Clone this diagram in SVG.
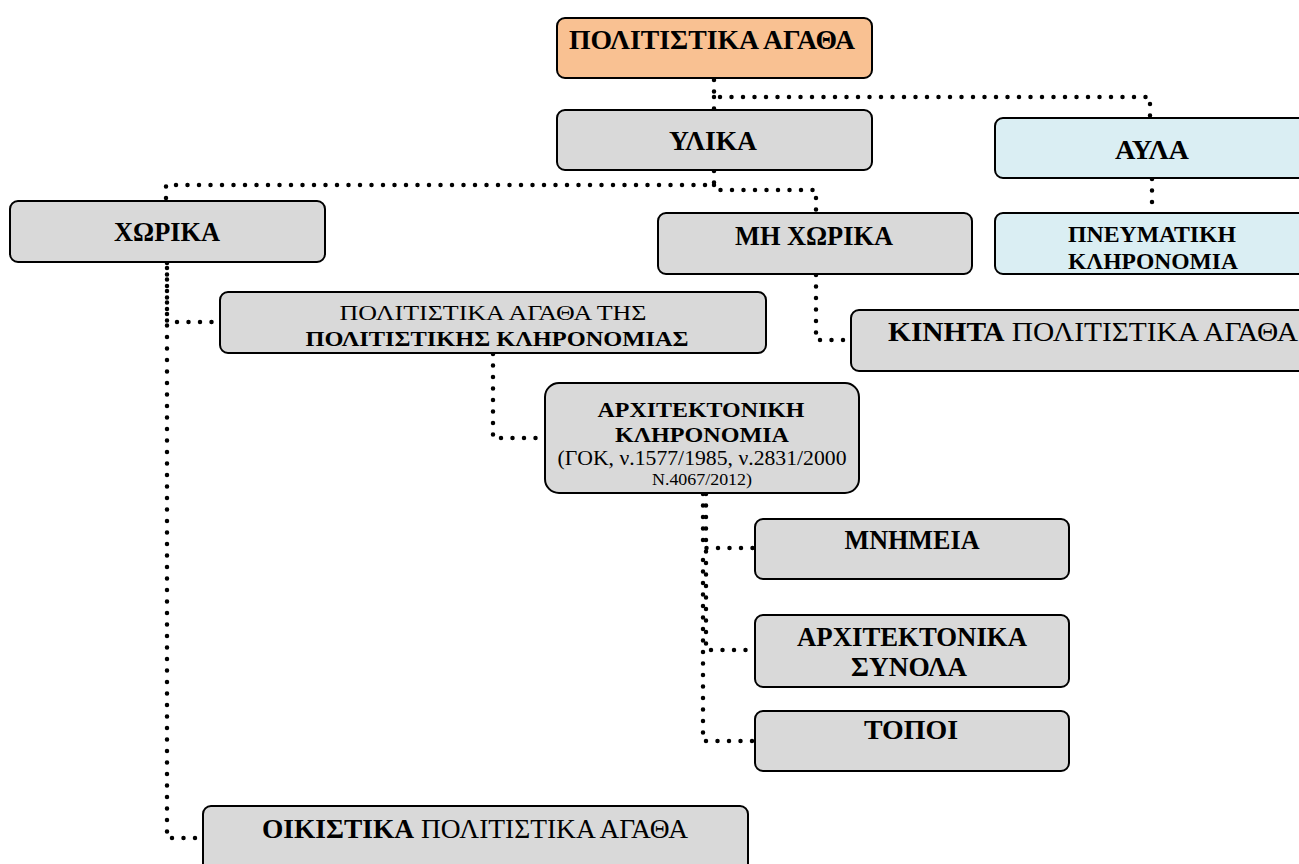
<svg xmlns="http://www.w3.org/2000/svg" width="1299" height="864" viewBox="0 0 1299 864">
<style>
.n{stroke:#000;stroke-width:2}
.g{fill:#D9D9D9}
.o{fill:#F9C192}
.b{fill:#DAEEF3}
text{font-family:"Liberation Serif","Times New Roman",serif;fill:#000;text-anchor:middle}
.bd{font-weight:bold}
.c{fill:none;stroke:#000;stroke-width:4.5;stroke-linecap:round;stroke-dasharray:0 11.5}
</style>
<rect width="1299" height="864" fill="#fff"/>
<g id="connectors">
<path class="c" d="M714 80 V97 H1150 V118"/>
<path class="c" d="M714 97 V110"/>
<path class="c" d="M714 171 V185 H166 V201"/>
<path class="c" d="M714 185 V190 H816 V213"/>
<path class="c" d="M1152 179 V213"/>
<path class="c" d="M167 263 V322 H220"/>
<path class="c" d="M167 268 V838 H203"/>
<path class="c" d="M816 275 V340 H851"/>
<path class="c" d="M493 354 V438 H545"/>
<path class="c" d="M703 494 V548 H755"/>
<path class="c" d="M706 494 V650 H755"/>
<path class="c" d="M703 560 V741 H755"/>
</g>
<g id="root"><rect class="n o" x="557" y="18" width="315" height="60" rx="8"/><text class="bd" x="712" y="49" font-size="27" textLength="286" lengthAdjust="spacingAndGlyphs">ΠΟΛΙΤΙΣΤΙΚΑ ΑΓΑΘΑ</text></g>
<g id="ylika"><rect class="n g" x="557" y="110" width="315" height="60" rx="8"/><text class="bd" x="713" y="150" font-size="27" textLength="88" lengthAdjust="spacingAndGlyphs">ΥΛΙΚΑ</text></g>
<g id="ayla"><rect class="n b" x="995" y="118" width="320" height="60" rx="8"/><text class="bd" x="1152" y="159" font-size="27" textLength="74" lengthAdjust="spacingAndGlyphs">ΑΥΛΑ</text></g>
<g id="xorika"><rect class="n g" x="10" y="201" width="315" height="61" rx="8"/><text class="bd" x="167" y="241" font-size="27" textLength="106" lengthAdjust="spacingAndGlyphs">ΧΩΡΙΚΑ</text></g>
<g id="mi-xorika"><rect class="n g" x="658" y="213" width="314" height="61" rx="8"/><text class="bd" x="814" y="245" font-size="27" textLength="158" lengthAdjust="spacingAndGlyphs">ΜΗ ΧΩΡΙΚΑ</text></g>
<g id="pnevmatiki"><rect class="n b" x="995" y="213" width="320" height="61" rx="8"/><text class="bd" x="1152" y="242" font-size="23" textLength="168" lengthAdjust="spacingAndGlyphs">ΠΝΕΥΜΑΤΙΚΗ</text><text class="bd" x="1153" y="269" font-size="23" textLength="170" lengthAdjust="spacingAndGlyphs">ΚΛΗΡΟΝΟΜΙΑ</text></g>
<g id="politistiki-klironomia"><rect class="n g" x="220" y="292" width="546" height="61" rx="8"/><text x="493" y="320" font-size="22" textLength="307" lengthAdjust="spacingAndGlyphs">ΠΟΛΙΤΙΣΤΙΚΑ ΑΓΑΘΑ ΤΗΣ</text><text class="bd" x="497" y="346" font-size="22" textLength="383" lengthAdjust="spacingAndGlyphs">ΠΟΛΙΤΙΣΤΙΚΗΣ ΚΛΗΡΟΝΟΜΙΑΣ</text></g>
<g id="kinita"><rect class="n g" x="851" y="310" width="470" height="61" rx="8"/><text x="888" y="341" font-size="27" style="text-anchor:start" textLength="410" lengthAdjust="spacingAndGlyphs"><tspan class="bd">ΚΙΝΗΤΑ</tspan> ΠΟΛΙΤΙΣΤΙΚΑ ΑΓΑΘΑ</text></g>
<g id="architektoniki"><rect class="n g" x="545" y="383" width="314" height="110" rx="14"/><text class="bd" x="701" y="417" font-size="22" textLength="207" lengthAdjust="spacingAndGlyphs">ΑΡΧΙΤΕΚΤΟΝΙΚΗ</text><text class="bd" x="702" y="442" font-size="22" textLength="174" lengthAdjust="spacingAndGlyphs">ΚΛΗΡΟΝΟΜΙΑ</text><text font-size="20" x="702" y="465" textLength="289" lengthAdjust="spacingAndGlyphs">(ΓΟΚ, ν.1577/1985, ν.2831/2000</text><text font-size="17" x="702" y="485" textLength="100" lengthAdjust="spacingAndGlyphs">Ν.4067/2012)</text></g>
<g id="mnimeia"><rect class="n g" x="755" y="519" width="314" height="60" rx="8"/><text class="bd" x="912" y="549" font-size="27" textLength="135" lengthAdjust="spacingAndGlyphs">ΜΝΗΜΕΙΑ</text></g>
<g id="synola"><rect class="n g" x="755" y="615" width="314" height="72" rx="8"/><text class="bd" x="912" y="646" font-size="27" textLength="230" lengthAdjust="spacingAndGlyphs">ΑΡΧΙΤΕΚΤΟΝΙΚΑ</text><text class="bd" x="909" y="676" font-size="27" textLength="116" lengthAdjust="spacingAndGlyphs">ΣΥΝΟΛΑ</text></g>
<g id="topoi"><rect class="n g" x="755" y="711" width="314" height="60" rx="8"/><text class="bd" x="911" y="739" font-size="27" textLength="94" lengthAdjust="spacingAndGlyphs">ΤΟΠΟΙ</text></g>
<g id="oikistika"><rect class="n g" x="203" y="806" width="545" height="70" rx="8"/><text x="262" y="838" font-size="27" style="text-anchor:start" textLength="426" lengthAdjust="spacingAndGlyphs"><tspan class="bd">ΟΙΚΙΣΤΙΚΑ</tspan> ΠΟΛΙΤΙΣΤΙΚΑ ΑΓΑΘΑ</text></g>
</svg>
